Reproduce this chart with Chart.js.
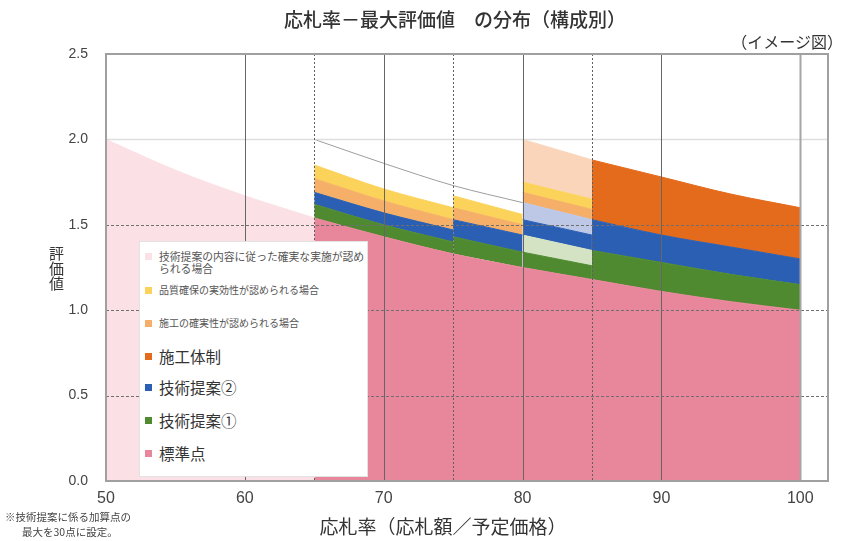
<!DOCTYPE html>
<html lang="ja">
<head>
<meta charset="utf-8">
<title>応札率－最大評価値 の分布（構成別）</title>
<script src="https://cdn.jsdelivr.net/npm/chart.js@4.4.1/dist/chart.umd.min.js"></script>
<style>
  html, body { margin: 0; padding: 0; background: #fff; }
  #wrap { position: relative; width: 843px; height: 541px; font-family: "Noto Sans CJK JP", sans-serif; color: #333; }
  #chart { position: absolute; left: 0; top: 0; }
  .txt { position: absolute; white-space: nowrap; }
  #title { left: 455px; top: 8px; transform: translateX(-50%); font-size: 19px; line-height: 22px; font-weight: 500; }
  #subtitle { right: 0; top: 32px; font-size: 16px; line-height: 19px; }
  #xlabel { left: 443px; top: 515px; transform: translateX(-50%); font-size: 19px; line-height: 22px; }
  #ylabel { left: 48px; top: 246px; font-size: 15px; line-height: 16px; writing-mode: vertical-rl; text-orientation: upright; }
  #note { left: 5px; top: 509px; font-size: 10.5px; line-height: 15px; color: #444; }
  #note span { display: block; }
  #note span + span { padding-left: 17px; }
  #legend { position: absolute; left: 139px; top: 241px; width: 229px; height: 236px; background: #fff; border: 1px solid #e2e2e2; box-sizing: border-box; padding: 8px 0 0 5px; }
  .item { display: flex; align-items: flex-start; }
  .item i { flex: none; width: 7px; height: 7px; margin-right: 7px; }
  .item.sm { font-size: 10px; line-height: 12px; color: #555; white-space: pre-line; }
  .item.sm:first-child { font-size: 10.8px; }
  .item.sm i { margin-top: 2.5px; }
  .item.lg { font-size: 15.5px; line-height: 18px; color: #333; }
  .item.lg i { margin-top: 5.5px; }
  .item:nth-child(2) { margin-top: 10px; }
  .item:nth-child(3) { margin-top: 21px; }
  .item:nth-child(4) { margin-top: 18px; }
  .item:nth-child(5) { margin-top: 13px; }
  .item:nth-child(6), .item:nth-child(7) { margin-top: 15px; }
</style>
</head>
<body>
<div id="wrap">
  <canvas id="chart" width="843" height="541"></canvas>
  <div class="txt" id="title">応札率－最大評価値　の分布（構成別）</div>
  <div class="txt" id="subtitle">（イメージ図）</div>
  <div class="txt" id="xlabel">応札率（応札額／予定価格）</div>
  <div class="txt" id="ylabel">評価値</div>
  <div class="txt" id="note"><span>※技術提案に係る加算点の</span><span>最大を30点に設定。</span></div>
  <div id="legend"></div>
</div>
<script>
// 応札率（%）と評価値
const rateTicks = [50, 60, 70, 80, 90, 100];
const scoreTicks = [0, 0.5, 1.0, 1.5, 2.0, 2.5];

// 標準点
const rateStd = [50, 55, 60, 65, 70, 75, 80, 85, 90, 95, 100];
const stdScore = [2.00, 1.82, 1.67, 1.54, 1.43, 1.33, 1.25, 1.18, 1.11, 1.05, 1.00];

// 65〜75%
const rateA = [65, 70, 75];
const baseA = [1.54, 1.43, 1.33];
const tech1A = [1.62, 1.50, 1.40];
const tech2A = [1.69, 1.57, 1.47];
const kakujitsuA = [1.77, 1.64, 1.53];
const hinshitsuA = [1.85, 1.71, 1.60];

// 75〜80%
const rateB = [75, 80];
const baseB = [1.33, 1.25];
const tech1B = [1.43, 1.34];
const tech2B = [1.53, 1.44];
const kakujitsuB = [1.60, 1.50];
const hinshitsuB = [1.67, 1.56];

// 80〜85%
const rateC = [80, 85];
const baseC = [1.25, 1.18];
const tech1C = [1.34, 1.26];
const tech1PlusC = [1.44, 1.35];
const tech2C = [1.53, 1.44];
const tech2PlusC = [1.63, 1.53];
const kakujitsuC = [1.69, 1.59];
const hinshitsuC = [1.75, 1.65];
const jisshiC = [2.00, 1.88];

// 85〜100%
const rateD = [85, 90, 95, 100];
const baseD = [1.18, 1.11, 1.05, 1.00];
const tech1D = [1.35, 1.28, 1.21, 1.15];
const tech2D = [1.53, 1.44, 1.37, 1.30];
const taiseiD = [1.88, 1.78, 1.68, 1.60];

// 細線（65〜80%）
const rateMax = [65, 70, 75, 80];
const maxLine = [2.00, 1.86, 1.73, 1.63];

const legendLabels = [
  "技術提案の内容に従った確実な実施が認め\nられる場合",
  "品質確保の実効性が認められる場合",
  "施工の確実性が認められる場合",
  "施工体制",
  "技術提案②",
  "技術提案①",
  "標準点"
];
const legendColors = ["#fbe0e5", "#fcd35a", "#f5af68", "#e46a1c", "#2a5fb4", "#4f8a31", "#e8879b"];
const [C_JISSHI, C_HINSHITSU, C_KAKUJITSU, C_TAISEI, C_TECH2, C_TECH1, C_STD] = legendColors;
const C_JISSHI_PALE = "#fad5ba";
const C_TECH2_PALE = "#bdc7e6";
const C_TECH1_PALE = "#d4e3c3";

const pts = (xs, ys) => xs.map((x, i) => ({ x: x, y: ys[i] }));

function band(label, xs, ys, color, fill) {
  return {
    label: label,
    data: pts(xs, ys),
    backgroundColor: color,
    borderColor: color,
    borderWidth: 1,
    pointRadius: 0,
    fill: fill
  };
}
function base(xs, ys) {
  return { label: "", data: pts(xs, ys), borderWidth: 0, borderColor: "transparent", pointRadius: 0, fill: false };
}

const datasets = [
  { label: "上限", data: pts(rateMax, maxLine), borderColor: "#9d9d9d", borderWidth: 1, pointRadius: 0, fill: false },
  band("標準点(50-65)", rateStd.slice(0, 4), stdScore.slice(0, 4), C_JISSHI, "origin"),
  band("標準点", rateStd.slice(3), stdScore.slice(3), C_STD, "origin"),

  base(rateA, baseA),
  band("技術提案①", rateA, tech1A, C_TECH1, "-1"),
  band("技術提案②", rateA, tech2A, C_TECH2, "-1"),
  band("施工の確実性", rateA, kakujitsuA, C_KAKUJITSU, "-1"),
  band("品質確保の実効性", rateA, hinshitsuA, C_HINSHITSU, "-1"),

  base(rateB, baseB),
  band("技術提案①", rateB, tech1B, C_TECH1, "-1"),
  band("技術提案②", rateB, tech2B, C_TECH2, "-1"),
  band("施工の確実性", rateB, kakujitsuB, C_KAKUJITSU, "-1"),
  band("品質確保の実効性", rateB, hinshitsuB, C_HINSHITSU, "-1"),

  base(rateC, baseC),
  band("技術提案①", rateC, tech1C, C_TECH1, "-1"),
  band("技術提案①(確実な実施)", rateC, tech1PlusC, C_TECH1_PALE, "-1"),
  band("技術提案②", rateC, tech2C, C_TECH2, "-1"),
  band("技術提案②(確実な実施)", rateC, tech2PlusC, C_TECH2_PALE, "-1"),
  band("施工の確実性", rateC, kakujitsuC, C_KAKUJITSU, "-1"),
  band("品質確保の実効性", rateC, hinshitsuC, C_HINSHITSU, "-1"),
  band("確実な実施", rateC, jisshiC, C_JISSHI_PALE, "-1"),

  base(rateD, baseD),
  band("技術提案①", rateD, tech1D, C_TECH1, "-1"),
  band("技術提案②", rateD, tech2D, C_TECH2, "-1"),
  band("施工体制", rateD, taiseiD, C_TAISEI, "-1")
];

// grid lines are drawn over the areas, like the original
const gridPlugin = {
  id: "overGrid",
  afterDatasetsDraw(chart) {
    const { ctx, chartArea: a, scales: { x, y } } = chart;
    const px = v => Math.round(x.getPixelForValue(v)) + 0.5;
    const py = v => Math.round(y.getPixelForValue(v)) + 0.5;
    const line = (x1, y1, x2, y2, color, w, dash) => {
      ctx.beginPath();
      ctx.strokeStyle = color;
      ctx.lineWidth = w;
      ctx.setLineDash(dash || []);
      ctx.moveTo(x1, y1);
      ctx.lineTo(x2, y2);
      ctx.stroke();
    };
    ctx.save();
    line(a.left, py(2.0), a.right, py(2.0), "#dedede", 1.5);
    [0.5, 1.0, 1.5].forEach(v => line(a.left, py(v), a.right, py(v), "#6f6f6f", 1, [3, 2]));
    [60, 70, 80, 90].forEach(v => line(px(v), a.top, px(v), a.bottom, "#666", 1));
    [65, 75, 85].forEach(v => line(px(v), a.top, px(v), a.bottom, "#5f5f5f", 1, [2, 2]));
    line(px(100), a.top, px(100), a.bottom, "#a5a5a5", 2);
    ctx.setLineDash([]);
    ctx.strokeStyle = "#a0a0a0";
    ctx.lineWidth = 2;
    ctx.strokeRect(a.left, a.top, a.right - a.left, a.bottom - a.top);
    ctx.restore();
  }
};

new Chart(document.getElementById("chart"), {
  type: "line",
  data: { datasets: datasets },
  options: {
    responsive: false,
    animation: false,
    layout: { padding: { top: 54, right: 15, left: 0, bottom: 0 } },
    elements: { line: { tension: 0, cubicInterpolationMode: "monotone" }, point: { radius: 0 } },
    plugins: { legend: { display: false }, tooltip: { enabled: false } },
    scales: {
      x: {
        type: "linear",
        min: 50,
        max: 102,
        afterBuildTicks: s => { s.ticks = rateTicks.map(v => ({ value: v })); },
        afterFit: s => { s.height = 60; },
        grid: { display: false, drawTicks: false },
        border: { display: false },
        ticks: { padding: 8, color: "#444", font: { family: "'Liberation Sans', Arial, sans-serif", size: 16 } }
      },
      y: {
        type: "linear",
        min: 0,
        max: 2.5,
        afterBuildTicks: s => { s.ticks = scoreTicks.map(v => ({ value: v })); },
        afterFit: s => { s.width = 106; },
        grid: { display: false, drawTicks: false },
        border: { display: false },
        ticks: {
          padding: 18,
          color: "#444",
          font: { family: "'Liberation Sans', Arial, sans-serif", size: 14 },
          callback: v => Number(v).toFixed(1)
        }
      }
    }
  },
  plugins: [gridPlugin]
});

// legend box
const legend = document.getElementById("legend");
legendLabels.forEach((label, i) => {
  const row = document.createElement("div");
  row.className = "item " + (i < 3 ? "sm" : "lg");
  const sw = document.createElement("i");
  sw.style.background = legendColors[i];
  const tx = document.createElement("span");
  tx.textContent = label;
  row.appendChild(sw);
  row.appendChild(tx);
  legend.appendChild(row);
});
</script>
</body>
</html>
